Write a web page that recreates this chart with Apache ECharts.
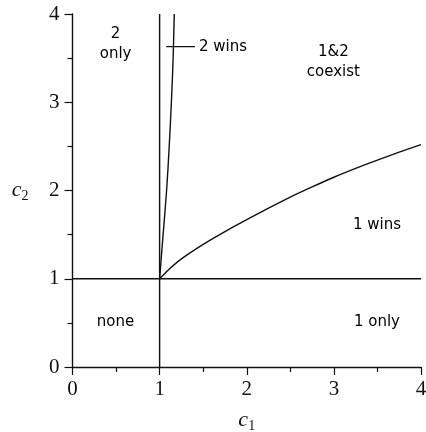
<!DOCTYPE html>
<html>
<head>
<meta charset="utf-8">
<style>
  html, body { margin: 0; padding: 0; background: #fff; }
  #chart { width: 426px; height: 432px; }
</style>
<script src="https://cdn.jsdelivr.net/npm/echarts@6/dist/echarts.min.js"></script>
</head>
<body>
<div id="chart"></div>
<script>
// Boundary: lower curve (species 1 wins below it)
const lowerC1 = [1, 1.1, 1.25, 1.5, 1.75, 2, 2.25, 2.5, 2.75, 3, 3.25, 3.5, 3.75, 4];
const lowerC2 = [1, 1.10, 1.225, 1.39, 1.535, 1.67, 1.80, 1.925, 2.04, 2.15, 2.25, 2.345, 2.435, 2.52];
// Boundary: steep curve (species 2 wins to its left)
const upperC1 = [1, 1.04, 1.08, 1.11, 1.135, 1.155, 1.168];
const upperC2 = [1, 1.5, 2, 2.5, 3, 3.5, 4];
// Threshold lines c1 = 1 and c2 = 1
const vLineC1 = [1, 1];
const vLineC2 = [0, 4];
const hLineC1 = [0, 4];
const hLineC2 = [1, 1];
// "2 wins" pointer segment
const pointerC1 = [1.075, 1.405];
const pointerC2 = [3.63, 3.63];
// Region labels
const regionNames = ['2\nonly', '1&2\ncoexist', '1 wins', 'none', '1 only'];
const regionC1 = [0.5, 3.0, 3.5, 0.5, 3.5];
const regionC2 = [3.65, 3.45, 1.6, 0.5, 0.5];
const pointerLabel = '2 wins';
// Ticks
const ticks = [0, 1, 2, 3, 4];

const zip = (a, b) => a.map((v, i) => [v, b[i]]);
const lineStyle = { color: '#111', width: 1.4 };
const tickFont = { fontFamily: 'Liberation Serif', fontSize: 21, color: '#111' };

const chart = echarts.init(document.getElementById('chart'), null, { renderer: 'canvas' });

function axisBase() {
  return {
    type: 'value', min: ticks[0], max: ticks[ticks.length - 1], interval: 1,
    axisLine: { show: true, onZero: false, lineStyle: { color: '#111', width: 1.4 } },
    axisTick: { show: true, inside: false, length: 8, lineStyle: { color: '#111', width: 1.2 } },
    minorTick: { show: true, splitNumber: 2, length: 5, lineStyle: { color: '#111', width: 1.2 } },
    splitLine: { show: false },
    minorSplitLine: { show: false },
    nameLocation: 'middle',
    nameTextStyle: {
      rich: {
        i: { fontFamily: 'Liberation Serif', fontStyle: 'italic', fontSize: 22, color: '#111' },
        s: { fontFamily: 'Liberation Serif', fontSize: 14, color: '#111', verticalAlign: 'bottom', padding: [12, 0, 0, 0] }
      }
    }
  };
}

const xAxis = Object.assign(axisBase(), {
  name: '{i|c}{s|1}', nameGap: 40,
  axisLabel: Object.assign({ margin: 12, formatter: v => ticks.includes(v) ? String(v) : '' }, tickFont)
});
const yAxis = Object.assign(axisBase(), {
  name: '{i|c}{s|2}', nameGap: 44, nameRotate: 0,
  axisLabel: Object.assign({ margin: 13, formatter: v => ticks.includes(v) ? String(v) : '' }, tickFont)
});

const labelFont = {
  fontFamily: 'DejaVu Sans', fontSize: 15, color: '#000', lineHeight: 20,
  textBorderWidth: 0, opacity: 1
};

chart.setOption({
  animation: false,
  backgroundColor: '#fff',
  grid: { left: 72.5, right: 5, top: 14, bottom: 65, containLabel: false, outerBoundsMode: 'none' },
  xAxis: xAxis,
  yAxis: yAxis,
  series: [
    { type: 'line', data: zip(vLineC1, vLineC2), showSymbol: false, lineStyle: lineStyle, silent: true },
    { type: 'line', data: zip(hLineC1, hLineC2), showSymbol: false, lineStyle: lineStyle, silent: true },
    { type: 'line', data: zip(lowerC1, lowerC2), showSymbol: false, smooth: 0.3, lineStyle: lineStyle, silent: true },
    { type: 'line', data: zip(upperC1, upperC2), showSymbol: false, smooth: 0.3, lineStyle: lineStyle, silent: true },
    {
      type: 'line', data: zip(pointerC1, pointerC2), showSymbol: false, lineStyle: lineStyle, silent: true,
      endLabel: { show: true, formatter: pointerLabel, distance: 4, ...labelFont }
    },
    {
      type: 'scatter', symbolSize: 1, silent: true,
      itemStyle: { color: 'rgba(0,0,0,0)', opacity: 1 },
      data: regionNames.map((n, i) => ({ name: n, value: [regionC1[i], regionC2[i]] })),
      label: { show: true, position: [0, 0], align: 'center', verticalAlign: 'middle', formatter: p => p.name, ...labelFont }
    }
  ]
});
</script>
</body>
</html>
